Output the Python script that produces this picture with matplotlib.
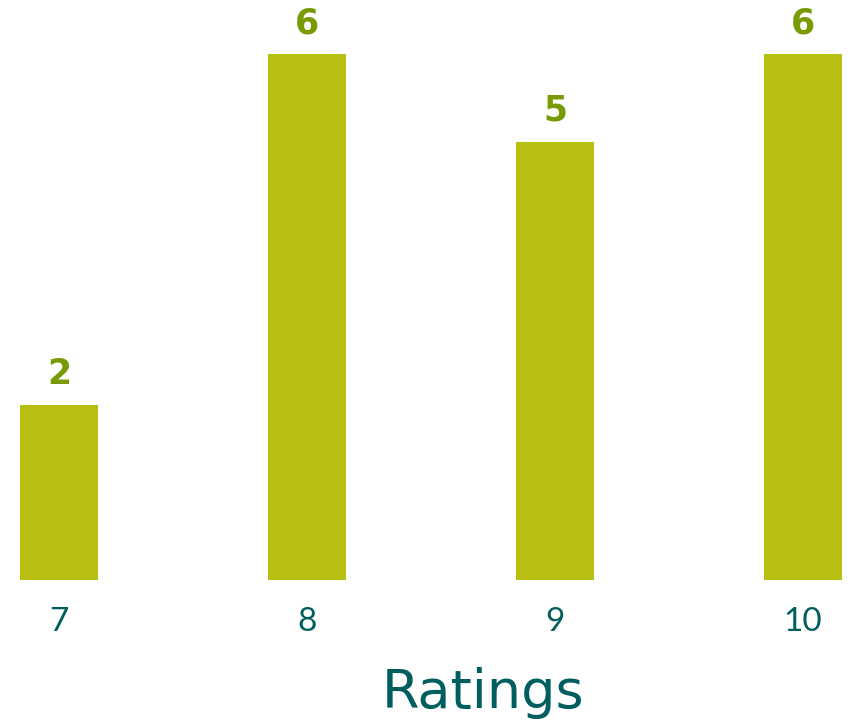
import matplotlib
matplotlib.use("Agg")
import matplotlib.pyplot as plt

ratings = ["7", "8", "9", "10"]
counts = [2, 6, 5, 6]

bar_color = "#B7BF12"
label_color = "#789A03"
teal = "#005F5E"

plt.rcParams["font.family"] = ["Lato", "DejaVu Sans"]

fig = plt.figure(figsize=(8.5, 7.26), dpi=100)
ax = fig.add_axes([0.0227, 0.2011, 0.9687, 0.797])

x = range(len(ratings))
bars = ax.bar(x, counts, width=0.3145, color=bar_color)

for xi, v in zip(x, counts):
    ax.annotate(str(v), (xi, v), xytext=(0, 15), textcoords="offset points",
                ha="center", va="baseline", fontsize=25, fontweight="bold",
                color=label_color, family="DejaVu Sans")

ax.set_xlim(-0.16, 3.16)
ax.set_ylim(0, 6.6)
ax.axis("off")

# category labels under each bar
for xi, lab in zip(x, ratings):
    ax.annotate(lab, (xi, 0), xytext=(0, -37), textcoords="offset points",
                ha="center", va="baseline", fontsize=24, color=teal)

fig.text(483 / 850, 1 - 708 / 726, "Ratings", ha="center", va="baseline",
         fontsize=39, color=teal, family="DejaVu Sans")

fig.savefig("out.png", dpi=100)
